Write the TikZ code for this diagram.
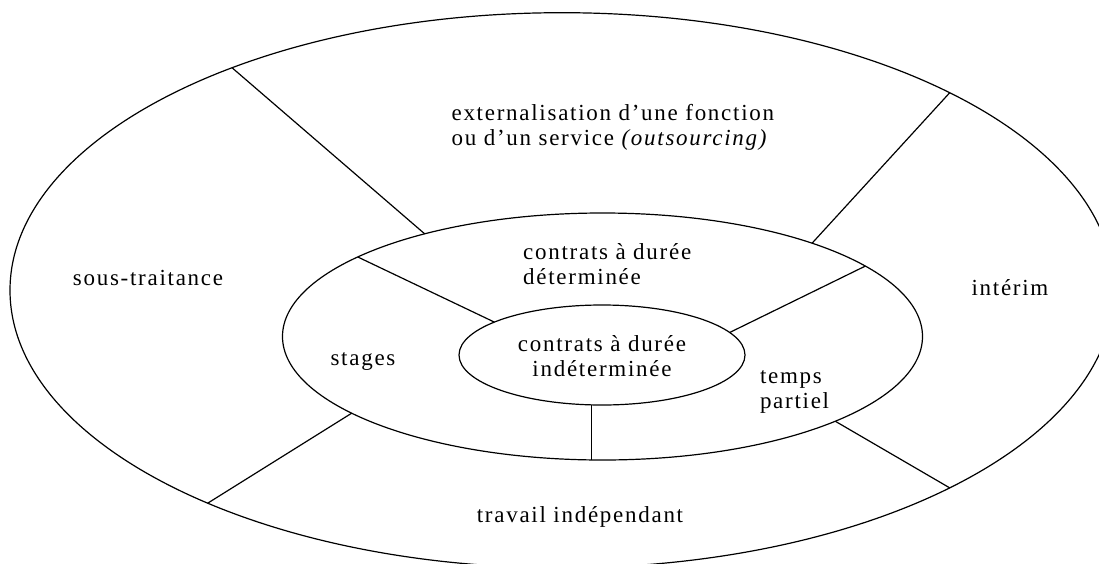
\documentclass[tikz,border=0pt]{standalone}
\usepackage{fontspec}
\setmainfont{Liberation Serif}[LetterSpace=7.5]
\usetikzlibrary{shapes.geometric}

\tikzset{
	ring/.style={draw, ellipse, inner sep=0pt, outer sep=0pt, line width=0.6pt},
	zone/.style={font=\fontsize{11.5}{12.5}\selectfont, inner sep=0pt},
}

\begin{document}
\begin{tikzpicture}[x=0.5pt, y=-0.5pt, line width=0.6pt]
			\useasboundingbox (0,0) rectangle (1099,563);
			
			\node[ring, minimum width=552pt, minimum height=277.6pt] (outer) at (562,290.3) {};
			\node[ring, minimum width=320pt, minimum height=123.5pt] (middle) at (602.5,336.5) {};
			\node[ring, minimum width=143pt, minimum height=50pt] (inner) at (602,355) {};
			
			\draw (outer.146) -- (middle.150);
			\draw (outer.27) -- (middle.24);
			\draw (outer.211) -- (middle.197);
			\draw (outer.333) -- (middle.340);
			
			\draw (middle.162) -- (inner.163);
			\draw (middle.15) -- (inner.10);
			\draw (inner.258) -- (inner.258 |- middle.south);
			
			\node[zone, anchor=west, align=left] (extern) at (451,127.5) {externalisation d’une fonction\\ou d’un service \textit{(outsourcing)}};
			\node[zone] (soustrait) at (148,278) {sous-traitance};
			\node[zone] (interim) at (1010,288) {intérim};
			\node[zone] (travail) at (580,516.7) {travail indépendant};
			
			\node[zone, anchor=west, align=left] (cdd) at (522.6,264.5) {contrats à durée\\déterminée};
			\node[zone] (stages) at (363,362) {stages};
			\node[zone, anchor=west, align=left] (partiel) at (759.4,391.5) {temps\\partiel};
			
			\node[zone, align=center] (cdi) at (602,356.5) {contrats à durée\\indéterminée};
		\end{tikzpicture}
\end{document}
